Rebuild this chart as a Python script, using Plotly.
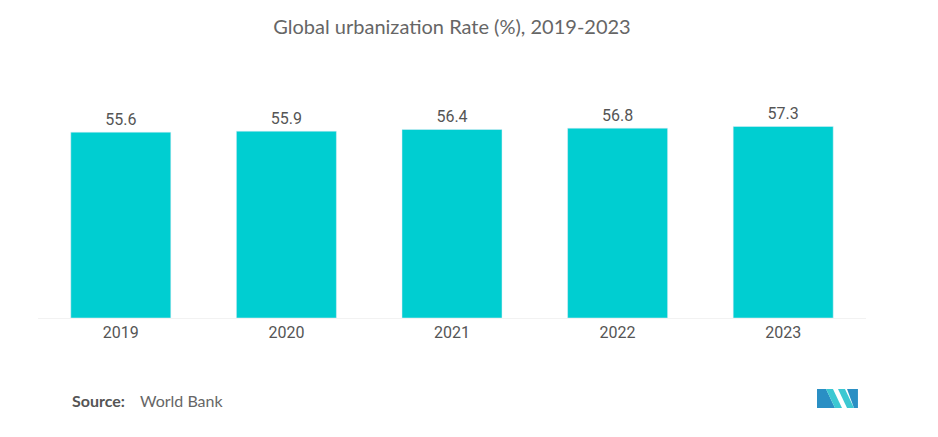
import plotly.graph_objects as go

years = ["2019", "2020", "2021", "2022", "2023"]
rates = [55.6, 55.9, 56.4, 56.8, 57.3]
bar_color = "#00CED1"

W, H = 938, 437
OFF = 8  # page body margin
L, R, T, B = 30, 80, 76, 127
PW, PH = W - L - R, H - T - B


def px(x):
    return (x - OFF - L) / PW


def py(y):
    return (H - B - (y - OFF)) / PH


fig = go.Figure(go.Bar(
    x=years, y=rates, marker_color=bar_color,
    text=[f"{v:.1f}" for v in rates], textposition="outside",
    textfont=dict(family="Roboto", size=16, color="#555555"),
    cliponaxis=False,
))

fig.update_layout(
    width=W, height=H,
    margin=dict(l=L, r=R, t=T, b=B),
    paper_bgcolor="white", plot_bgcolor="white",
    bargap=0.396,
    showlegend=False,
    title=dict(text="Global urbanization Rate (%), 2019-2023", x=0.5, xanchor="center",
               xref="paper", y=1 - (27 - OFF) / H, yanchor="middle",
               font=dict(family="Lato", size=20, color="#666666")),
    xaxis=dict(showline=True, linecolor="#f2f2f2", linewidth=1, ticks="",
               tickfont=dict(family="Roboto", size=16, color="#555555"), showgrid=False),
    yaxis=dict(range=[0, 70], visible=False, showgrid=False),
)

fig.add_annotation(text="<b>Source:</b>", x=px(70), y=py(400), xref="paper", yref="paper",
                   xanchor="left", yanchor="middle", showarrow=False,
                   font=dict(family="Lato", size=16, color="#555555"))
fig.add_annotation(text="World Bank", x=px(138), y=py(400), xref="paper", yref="paper",
                   xanchor="left", yanchor="middle", showarrow=False,
                   font=dict(family="Lato", size=16, color="#666666"))


def P(x, y):
    return f"{px(x):.4f},{py(y):.4f}"


polys = [
    ([(817, 408), (817, 389), (826, 389), (835, 408)], "#2a8fc4"),
    ([(826, 389), (833, 389), (842, 408), (835, 408)], "#3cc8d2"),
    ([(838, 389), (845, 389), (854, 408), (847, 408)], "#3cc8d2"),
    ([(847, 389), (858, 389), (858, 408), (854, 408)], "#2a8fc4"),
]
for pts, col in polys:
    path = "M " + " L ".join(P(x, y) for x, y in pts) + " Z"
    fig.add_shape(type="path", path=path, xref="paper", yref="paper",
                  fillcolor=col, line_width=0)

fig.write_html("out.html")
